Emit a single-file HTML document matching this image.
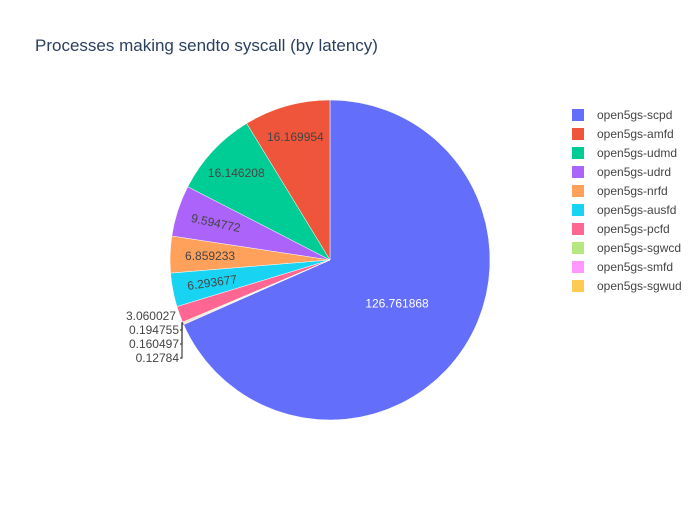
<!DOCTYPE html>
<html><head><meta charset="utf-8"><style>
body{margin:0;background:#fff;font-family:"Liberation Sans",Arial,sans-serif}
svg text{font-family:"Liberation Sans",Arial,sans-serif}
</style></head><body>
<svg id="chart" width="700" height="500" viewBox="0 0 700 500">
<rect width="700" height="500" fill="#fff"/>
<text x="35" y="51" font-size="17" fill="#2a3f5f">Processes making sendto syscall (by latency)</text>
<g id="slices"></g><g id="labels"></g><g id="legend"></g>
</svg>
<script>
const categories=["open5gs-scpd","open5gs-amfd","open5gs-udmd","open5gs-udrd","open5gs-nrfd","open5gs-ausfd","open5gs-pcfd","open5gs-sgwcd","open5gs-smfd","open5gs-sgwud"];
const values=[126.761868,16.169954,16.146208,9.594772,6.859233,6.293677,3.060027,0.194755,0.160497,0.12784];
const valueLabels=["126.761868","16.169954","16.146208","9.594772","6.859233","6.293677","3.060027","0.194755","0.160497","0.12784"];
const colors=["#636efa","#EF553B","#00cc96","#ab63fa","#FFA15A","#19d3f3","#FF6692","#B6E880","#FF97FF","#FECB52"];
const labelRot=[0,0,0,12,0,-8,0,0,0,0];
const NS="http://www.w3.org/2000/svg";
const cx=330,cy=260,R=160;
const total=values.reduce((a,b)=>a+b,0);
function pt(a,r){return [cx+r*Math.sin(a),cy-r*Math.cos(a)];}
const gS=document.getElementById('slices'),gL=document.getElementById('labels'),gG=document.getElementById('legend');
let cum=0;const outside=[];const spans=[];
for(let i=1;i<values.length;i++){
  const a1=-cum/total*2*Math.PI;cum+=values[i];const a0=-cum/total*2*Math.PI;
  spans[i]=[a0,a1];
}
spans[0]=[0,2*Math.PI-cum/total*2*Math.PI];
values.forEach((v,i)=>{
  const a0=spans[i][0],a1=spans[i][1];
  const p0=pt(a0,R),p1=pt(a1,R);const large=(a1-a0)>Math.PI?1:0;
  const p=document.createElementNS(NS,'path');
  p.setAttribute('d',`M${cx},${cy}L${p0[0]},${p0[1]}A${R},${R} 0 ${large} 1 ${p1[0]},${p1[1]}Z`);
  p.setAttribute('fill',colors[i]);p.setAttribute('stroke','#fff');p.setAttribute('stroke-width','0.5');
  
  
  gS.appendChild(p);
  const mid=(a0+a1)/2;
  if(v/total>0.025){
    const r=i===0?R*0.5:(i<=2?R*0.8:R*0.75);const q=pt(mid,r);
    const t=document.createElementNS(NS,'text');
    t.setAttribute('x',q[0]);t.setAttribute('y',q[1]+4);t.setAttribute('text-anchor','middle');
    t.setAttribute('font-size','12');t.setAttribute('fill',i===0?'#fff':'#444');
    t.setAttribute('transform',`rotate(${labelRot[i]} ${q[0]} ${q[1]})`);
    t.textContent=valueLabels[i];
    
    
    gL.appendChild(t);
  } else outside.push([i,mid]);
});
outside.forEach((o,k)=>{
  const i=o[0];const y=320+k*14;
  const t=document.createElementNS(NS,'text');
  t.setAttribute('x',k===0?176:179);t.setAttribute('y',y);t.setAttribute('text-anchor','end');
  t.setAttribute('font-size','12');t.setAttribute('fill','#444');t.textContent=valueLabels[i];
  
  
  gL.appendChild(t);
  if(k>0){
    const e=pt(o[1],R);
    const l=document.createElementNS(NS,'path');
    l.setAttribute('d',`M180,${y-4}H182V${e[1]}L${e[0]},${e[1]}`);
    l.setAttribute('stroke','#444');l.setAttribute('fill','none');l.setAttribute('stroke-width','1.2');
    
    
    gL.appendChild(l);
  }
});
categories.forEach((c,i)=>{
  const y=115+i*19;
  const g=document.createElementNS(NS,'g');
  
  
  const r=document.createElementNS(NS,'rect');
  r.setAttribute('x',572);r.setAttribute('y',y-6);r.setAttribute('width',12);r.setAttribute('height',12);r.setAttribute('fill',colors[i]);
  const t=document.createElementNS(NS,'text');
  t.setAttribute('x',597);t.setAttribute('y',y+4);t.setAttribute('font-size','12');t.setAttribute('fill','#444');t.textContent=c;
  g.appendChild(r);g.appendChild(t);gG.appendChild(g);
});
</script>
</body></html>
